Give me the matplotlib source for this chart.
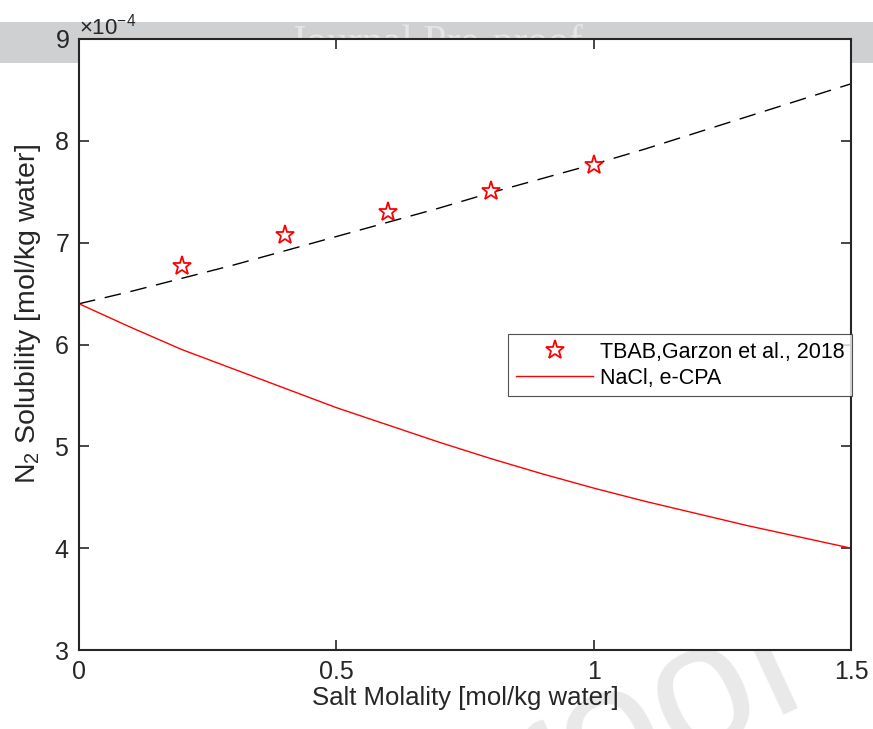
import numpy as np
import matplotlib.pyplot as plt
from matplotlib.ticker import ScalarFormatter

plt.rcParams['font.family'] = ['Liberation Sans', 'DejaVu Sans']
plt.rcParams['mathtext.fontset'] = 'custom'
plt.rcParams['mathtext.rm'] = 'Liberation Sans'
plt.rcParams['mathtext.it'] = 'Liberation Sans'

# ==================== Data ====================
# TBAB experimental points (Garzon et al., 2018)
tbab_m = [0.2, 0.4, 0.6, 0.8, 1.0]
tbab_sol = [6.77, 7.08, 7.30, 7.51, 7.76]  # x1e-4

# model curves
model_m = [0.0, 0.1, 0.2, 0.3, 0.4, 0.5, 0.6, 0.7, 0.8, 0.9,
           1.0, 1.1, 1.2, 1.3, 1.4, 1.5]
tbab_fit = [6.40, 6.52, 6.65, 6.78, 6.92, 7.06, 7.20, 7.34, 7.49, 7.63,
            7.77, 7.92, 8.08, 8.24, 8.40, 8.56]
nacl_cpa = [6.40, 6.17, 5.95, 5.76, 5.57, 5.38, 5.21, 5.04, 4.88, 4.73,
            4.59, 4.46, 4.34, 4.22, 4.11, 4.00]

scale = 1e-4
AX_COLOR = '#262626'
W, H = 873, 729

fig = plt.figure(figsize=(W / 100, H / 100), dpi=100)

# journal banner + watermark, drawn underneath the axes
fig.patches.append(plt.Rectangle((0, 1 - 63 / H), 1, 41 / H,
                                 transform=fig.transFigure,
                                 facecolor='#cfd0d2', edgecolor='none', zorder=0))
fig.text(0.50, 1 - 54 / H, 'Journal Pre-proof', fontsize=30,
         family='Liberation Serif', color='#e6e6e8', ha='center', va='baseline',
         zorder=0.5)
fig.text(815 / W, 1 - 700 / H, 'Journal Pre-proof', fontsize=130,
         color='#e9e9e9', rotation=25, rotation_mode='anchor',
         ha='right', va='baseline', zorder=0.5)

ax = fig.add_axes([79 / W, 1 - 650 / H, 772 / W, 611 / H])
ax.set_zorder(2)
ax.set_facecolor('white')

ax.plot(model_m, np.array(tbab_fit) * scale, '--', color='black', lw=1.0,
        dashes=(12, 7))
ax.plot(tbab_m, np.array(tbab_sol) * scale, linestyle='none', marker='*',
        markersize=14, markerfacecolor='white', markeredgecolor='red',
        markeredgewidth=1.3, label='TBAB,Garzon et al., 2018')
ax.plot(model_m, np.array(nacl_cpa) * scale, '-', color='red', lw=1.0,
        label='NaCl, e-CPA')

ax.set_xlim(0, 1.5)
ax.set_ylim(3e-4, 9e-4)
ax.set_xticks([0, 0.5, 1, 1.5])
ax.set_xticklabels(['0', '0.5', '1', '1.5'])
ax.set_yticks(np.arange(3, 10) * scale)

fmt = ScalarFormatter(useMathText=True)
fmt.set_powerlimits((0, 0))
ax.yaxis.set_major_formatter(fmt)
ax.yaxis.get_offset_text().set_fontsize(16)
ax.yaxis.get_offset_text().set_color(AX_COLOR)

ax.tick_params(direction='in', top=True, right=True, length=7, width=1.2,
               labelsize=18, colors=AX_COLOR, pad=7)
for s in ax.spines.values():
    s.set_linewidth(1.5)
    s.set_color(AX_COLOR)

ax.set_xlabel('Salt Molality [mol/kg water]', fontsize=18.5, color=AX_COLOR,
              labelpad=2)
ax.set_ylabel('N$_2$ Solubility [mol/kg water]', fontsize=20.5, color=AX_COLOR)
ax.yaxis.set_label_coords(-0.047, 0.55)

leg = ax.legend(loc='upper right', bbox_to_anchor=(852 / W, 1 - 334 / H),
                bbox_transform=fig.transFigure, fontsize=15.5, frameon=True,
                fancybox=False, handlelength=3.6, handletextpad=0.3,
                borderpad=0.35, labelspacing=0.25, borderaxespad=0)
leg.get_frame().set_edgecolor(AX_COLOR)
leg.get_frame().set_linewidth(0.8)

fig.savefig('out.png', dpi=100)
